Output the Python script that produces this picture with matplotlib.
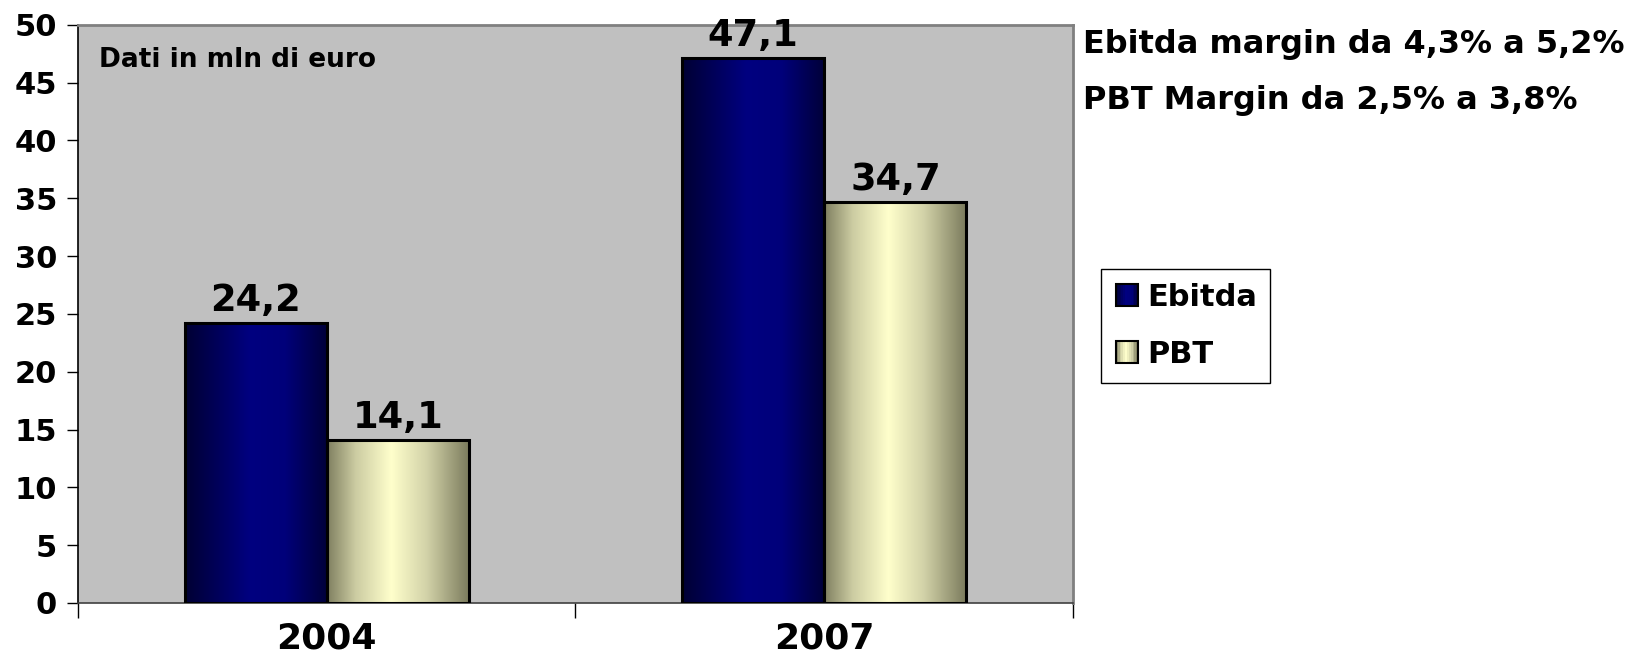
import numpy as np
import matplotlib
matplotlib.use("Agg")
import matplotlib.pyplot as plt
from matplotlib.patches import Rectangle
from matplotlib.legend_handler import HandlerBase
from matplotlib.colors import LinearSegmentedColormap

# Data (mln di euro)
years = ["2004", "2007"]
series_names = ["Ebitda", "PBT"]
ebitda = [24.2, 47.1]
pbt = [14.1, 34.7]
value_labels = {"Ebitda": ["24,2", "47,1"], "PBT": ["14,1", "34,7"]}
y_ticks = [0, 5, 10, 15, 20, 25, 30, 35, 40, 45, 50]
note_lines = ["Ebitda margin da 4,3% a 5,2%", "PBT Margin da 2,5% a 3,8%"]
unit_note = "Dati in mln di euro"

plt.rcParams["font.family"] = ["DejaVu Sans"]
plt.rcParams["font.weight"] = "bold"

# Horizontal shading for the bars
cmaps = {
    "Ebitda": LinearSegmentedColormap.from_list(
        "ebitda", [(0.0, "#000033"), (0.45, "#000080"), (0.7, "#00007a"), (1.0, "#000038")]),
    "PBT": LinearSegmentedColormap.from_list(
        "pbt", [(0.0, "#7f7f60"), (0.2, "#cccca2"), (0.45, "#ffffcc"), (0.7, "#d2d2a8"), (1.0, "#7a7a5c")]),
}
grad = np.linspace(0, 1, 256).reshape(1, -1)

fig = plt.figure(figsize=(16.34, 6.54), dpi=100)
ax = fig.add_axes([0.0477, 0.078, 0.609, 0.884])
ax.set_facecolor("#c0c0c0")

x = np.arange(len(years))
width = 0.2857
values = {"Ebitda": ebitda, "PBT": pbt}
offsets = {"Ebitda": -width / 2, "PBT": width / 2}

for name in series_names:
    bars = ax.bar(x + offsets[name], values[name], width, facecolor="none",
                  edgecolor="black", linewidth=2.2, zorder=3)
    for rect, lab in zip(bars, value_labels[name]):
        x0, w, h = rect.get_x(), rect.get_width(), rect.get_height()
        im = ax.imshow(grad, cmap=cmaps[name], extent=(x0, x0 + w, 0, h),
                       aspect="auto", zorder=2, interpolation="bilinear")
        im.set_clip_path(rect)
        ax.annotate(lab, (x0 + w / 2, h), xytext=(0, 3), textcoords="offset points",
                    ha="center", va="bottom", fontsize=26.5, fontweight="bold")

ax.set_xlim(-0.5, 1.5)
ax.set_ylim(0, 50)
ax.set_yticks(y_ticks)
ax.set_yticklabels([str(t) for t in y_ticks], fontsize=22, fontweight="bold")
ax.tick_params(axis="y", length=8, width=1, pad=7)

ax.set_xticks(x)
ax.set_xticklabels(years, fontsize=26, fontweight="bold")
ax.set_xticks([-0.5, 0.5, 1.5], minor=True)
ax.tick_params(axis="x", which="major", length=0, pad=13)
ax.tick_params(axis="x", which="minor", length=11, width=1)

for side in ("top", "right"):
    ax.spines[side].set_color("#808080")
    ax.spines[side].set_linewidth(2)
ax.spines["left"].set_color("black")
ax.spines["bottom"].set_color("#404040")
ax.spines["left"].set_linewidth(1.2)
ax.spines["bottom"].set_linewidth(1.2)

ax.text(0.021, 0.94, unit_note, transform=ax.transAxes, fontsize=19,
        fontweight="bold", ha="left", va="center")

fig.text(0.663, 0.932, note_lines[0], fontsize=23, fontweight="bold", ha="left", va="center")
fig.text(0.663, 0.846, note_lines[1], fontsize=23, fontweight="bold", ha="left", va="center")


class GradientHandler(HandlerBase):
    def __init__(self, cmap):
        super().__init__()
        self.cmap = cmap

    def create_artists(self, legend, orig_handle, xdescent, ydescent, width, height,
                       fontsize, trans):
        size = min(width, height) * 0.95
        x0 = -xdescent + (width - size) / 2
        y0 = -ydescent + (height - size) / 2
        artists = []
        n = 12
        for i in range(n):
            artists.append(Rectangle((x0 + i * size / n, y0), size / n + 0.3, size,
                                     facecolor=self.cmap((i + 0.5) / n), edgecolor="none",
                                     transform=trans))
        artists.append(Rectangle((x0, y0), size, size, facecolor="none",
                                 edgecolor="black", linewidth=1.5, transform=trans))
        return artists


handles = [Rectangle((0, 0), 1, 1, label=n) for n in series_names]
leg = fig.legend(handles, series_names,
                 handler_map={h: GradientHandler(cmaps[n]) for h, n in zip(handles, series_names)},
                 loc="upper left", bbox_to_anchor=(0.6738, 0.5887), borderaxespad=0,
                 frameon=True, fancybox=False, edgecolor="black", framealpha=1,
                 handlelength=0.8, handleheight=0.8, handletextpad=0.25,
                 labelspacing=0.92, borderpad=0.45, prop={"weight": "bold", "size": 22})
leg.get_frame().set_linewidth(1)

fig.savefig("out.png", dpi=100)
